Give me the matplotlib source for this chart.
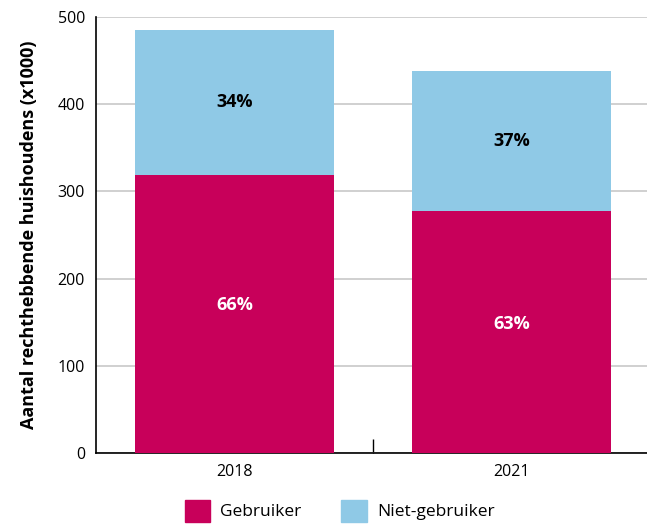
import matplotlib
matplotlib.use("Agg")
import matplotlib.pyplot as plt
from matplotlib.patches import Patch

years = ["2018", "2021"]
gebruiker = [319, 277]
niet_gebruiker = [166, 161]
pct_gebruiker = ["66%", "63%"]
pct_niet = ["34%", "37%"]
yticks = [0, 100, 200, 300, 400, 500]

red = "#C8005A"
blue = "#8FC9E6"

plt.rcParams['font.family'] = ['Open Sans', 'DejaVu Sans']

fig = plt.figure(figsize=(6.47, 5.26), dpi=100)
ax = fig.add_axes([96/647, 73/526, 554/647, 436/526])

x = list(range(len(years)))
ax.bar(x, gebruiker, width=0.722, color=red, zorder=3)
ax.bar(x, niet_gebruiker, bottom=gebruiker, width=0.722, color=blue, zorder=3)

for i in x:
    ax.text(i, gebruiker[i] / 2 + 10, pct_gebruiker[i], ha='center', va='center',
            color='white', fontweight='bold', fontsize=13, zorder=4)
    ax.text(i, gebruiker[i] + niet_gebruiker[i] / 2, pct_niet[i], ha='center', va='center',
            color='black', fontweight='bold', fontsize=13, zorder=4)

ax.set_xlim(-0.5, 1.5)
ax.set_ylim(0, 500)
ax.set_yticks(yticks)
ax.set_yticklabels([str(t) for t in yticks], fontsize=11.5)
ax.tick_params(axis='y', length=0, pad=8)
ax.set_xticks(x)
ax.set_xticklabels(years, fontsize=11.5)
ax.tick_params(axis='x', length=0, pad=8)
ax.set_xticks([0.5], minor=True)
ax.tick_params(axis='x', which='minor', direction='in', length=10, width=1, color='black')

ax.yaxis.grid(True, color='#c8c8c8', linewidth=1.2, zorder=0)
ax.set_axisbelow(True)
for s in ['top', 'right']:
    ax.spines[s].set_visible(False)
ax.spines['left'].set_color('black')
ax.spines['bottom'].set_color('black')
ax.spines['left'].set_linewidth(1.2)
ax.spines['bottom'].set_linewidth(1.2)

ax.set_ylabel("Aantal rechthebbende huishoudens (x1000)", fontsize=13,
              fontweight='bold', labelpad=14)

handles = [Patch(color=red, label="Gebruiker"), Patch(color=blue, label="Niet-gebruiker")]
fig.legend(handles=handles, loc='lower center', bbox_to_anchor=(0.525, -0.022), ncol=2,
           frameon=False, fontsize=12.5, handlelength=1.45, handleheight=1.6,
           columnspacing=2.3, handletextpad=0.6)

fig.savefig("out.png", dpi=100)
